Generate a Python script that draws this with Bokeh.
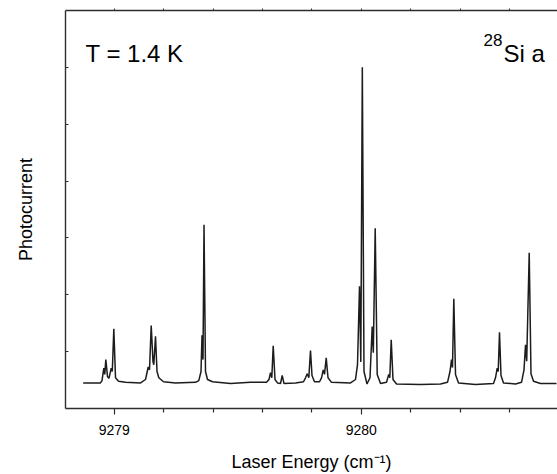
from bokeh.plotting import figure
from bokeh.models import Range1d, LinearAxis, FixedTicker, Label
from bokeh.embed import file_html
from bokeh.resources import INLINE

# Photocurrent spectrum (energy in cm^-1, intensity in axis units)
energy = [
    9278.8745, 9278.9445, 9278.9506, 9278.9579, 9278.9619, 9278.9660, 9278.9729, 9278.9789,
    9278.9879, 9278.9923, 9278.9984, 9279.0053, 9279.0174, 9279.0457,
    9279.1065, 9279.1267, 9279.1377, 9279.1429, 9279.1498, 9279.1571, 9279.1603, 9279.1672,
    9279.1733, 9279.1806, 9279.1996, 9279.2482,
    9279.3291, 9279.3425, 9279.3514, 9279.3555, 9279.3595, 9279.3636, 9279.3696, 9279.3777,
    9279.3980, 9279.4709, 9279.5518,
    9279.6166, 9279.6267, 9279.6328, 9279.6381, 9279.6437, 9279.6510, 9279.6611, 9279.6733,
    9279.6802, 9279.6874, 9279.7340,
    9279.7664, 9279.7745, 9279.7814, 9279.7879, 9279.7947, 9279.8008, 9279.8109, 9279.8312,
    9279.8393, 9279.8462, 9279.8514, 9279.8583, 9279.8656, 9279.8798, 9279.9567,
    9279.9769, 9279.9850, 9279.9931, 9279.9984, 9280.0045, 9280.0113, 9280.0235, 9280.0356,
    9280.0445, 9280.0490, 9280.0567, 9280.0648, 9280.0781, 9280.1024, 9280.1113, 9280.1158,
    9280.1215, 9280.1287, 9280.1429, 9280.2401, 9280.3211,
    9280.3494, 9280.3595, 9280.3656, 9280.3696, 9280.3749, 9280.3818, 9280.3939, 9280.4628,
    9280.5356, 9280.5437, 9280.5506, 9280.5547, 9280.5599, 9280.5660, 9280.5761, 9280.6247,
    9280.6490, 9280.6591, 9280.6652, 9280.6700, 9280.6802, 9280.6874, 9280.6976, 9280.7259,
    9280.7907,
]
intensity = [
    0.45, 0.45, 0.49, 0.71, 0.60, 0.86, 0.56, 0.53,
    0.71, 0.65, 1.40, 0.54, 0.48, 0.46,
    0.45, 0.51, 0.73, 0.68, 1.46, 0.82, 0.77, 1.27,
    0.65, 0.54, 0.47, 0.45,
    0.46, 0.49, 0.65, 1.29, 0.86, 3.23, 0.65, 0.51,
    0.47, 0.44, 0.46,
    0.46, 0.51, 0.63, 0.54, 1.105, 0.51, 0.45, 0.44,
    0.58, 0.44, 0.45,
    0.47, 0.54, 0.61, 0.54, 1.02, 0.58, 0.47, 0.47,
    0.54, 0.68, 0.60, 0.89, 0.54, 0.46, 0.45,
    0.51, 0.77, 2.15, 0.82, 6.00, 0.65, 0.43, 0.54,
    1.44, 0.98, 3.17, 0.60, 0.44, 0.46, 0.60, 0.54,
    1.21, 0.51, 0.43, 0.42, 0.43,
    0.46, 0.65, 0.86, 0.72, 1.93, 0.60, 0.45, 0.42,
    0.44, 0.54, 0.71, 0.65, 1.34, 0.58, 0.45, 0.43,
    0.46, 0.68, 1.12, 0.83, 2.74, 0.61, 0.48, 0.44,
    0.44,
]

x_major_ticks = [9279, 9280]
x_minor_ticks = [9278.8, 9279.2, 9279.4, 9279.6, 9279.8, 9280.2, 9280.4, 9280.6, 9280.8]
y_ticks = [1, 2, 3, 4, 5, 6]

FONT = "Liberation Sans"
AXIS_COLOR = "#2e2e2e"

p = figure(width=557, height=474, output_backend="svg", toolbar_location=None,
           x_range=Range1d(9278.8028, 9280.7947), y_range=Range1d(0, 7),
           x_axis_location=None, y_axis_location=None,
           min_border_left=65, min_border_right=0, min_border_top=10, min_border_bottom=65)
p.grid.visible = False
p.outline_line_color = None
p.background_fill_color = "white"
p.border_fill_color = "white"

bottom = LinearAxis(ticker=FixedTicker(ticks=x_major_ticks, minor_ticks=x_minor_ticks),
                    axis_label="Laser Energy (cm⁻¹)")
bottom.axis_line_color = AXIS_COLOR
bottom.axis_line_width = 1.4
bottom.major_tick_line_color = AXIS_COLOR
bottom.minor_tick_line_color = AXIS_COLOR
bottom.major_tick_line_width = 1.2
bottom.minor_tick_line_width = 1.2
bottom.major_tick_in = 0
bottom.major_tick_out = 6
bottom.minor_tick_in = 0
bottom.minor_tick_out = 4
bottom.major_label_text_font = FONT
bottom.major_label_text_font_size = "14px"
bottom.major_label_text_color = "black"
bottom.major_label_standoff = 10
bottom.axis_label_text_font = FONT
bottom.axis_label_text_font_size = "18px"
bottom.axis_label_text_font_style = "normal"
bottom.axis_label_text_color = "black"
bottom.axis_label_standoff = 14
p.add_layout(bottom, "below")

# top frame line: only small outward ticks, no labels
top = LinearAxis(ticker=FixedTicker(ticks=[], minor_ticks=x_major_ticks + x_minor_ticks))
top.axis_line_color = AXIS_COLOR
top.axis_line_width = 1.4
top.minor_tick_line_color = AXIS_COLOR
top.minor_tick_in = 0
top.minor_tick_out = 2
top.major_tick_in = 0
top.major_tick_out = 0
p.add_layout(top, "above")

# left frame line: small inward ticks, no labels
left = LinearAxis(ticker=FixedTicker(ticks=[], minor_ticks=y_ticks), axis_label="Photocurrent")
left.axis_line_color = AXIS_COLOR
left.axis_line_width = 1.4
left.minor_tick_line_color = AXIS_COLOR
left.minor_tick_in = 3
left.minor_tick_out = 0
left.major_tick_in = 0
left.major_tick_out = 0
left.major_label_standoff = 0
left.axis_label_text_font = FONT
left.axis_label_text_font_size = "18px"
left.axis_label_text_font_style = "normal"
left.axis_label_text_color = "black"
left.axis_label_standoff = 30
p.add_layout(left, "left")

p.line(energy, intensity, line_color="#1c1c1c", line_width=1.5)

p.add_layout(Label(x=9278.8838, y=6.246, text="T = 1.4 K", text_font=FONT,
                   text_font_size="24px", text_color="black", text_baseline="alphabetic"))
p.add_layout(Label(x=9280.4951, y=6.474, text="28", text_font=FONT,
                   text_font_size="17px", text_color="black", text_baseline="alphabetic"))
p.add_layout(Label(x=9280.5761, y=6.246, text="Si a", text_font=FONT,
                   text_font_size="24px", text_color="black", text_baseline="alphabetic"))

open("out.html", "w").write(file_html(p, INLINE))
